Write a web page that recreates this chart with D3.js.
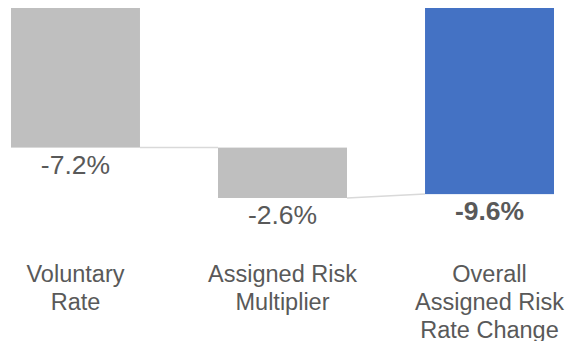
<!DOCTYPE html>
<html>
<head>
<meta charset="utf-8">
<script src="https://cdn.jsdelivr.net/npm/d3@7"></script>
<style>
    body { margin: 0; background: #ffffff; }
    svg { display: block; font-family: "Liberation Sans", Arial, sans-serif; }
</style>
</head>
<body>
<svg id="chart"></svg>
<script>
// waterfall of rate changes

const categories = ["Voluntary Rate", "Assigned Risk Multiplier", "Overall Assigned Risk Rate Change"];
const labelLines = [["Voluntary", "Rate"], ["Assigned Risk", "Multiplier"], ["Overall", "Assigned Risk", "Rate Change"]];
const changes = [-7.2, -2.6, -9.6];
const isTotal = [false, false, true];
const valueLabels = ["-7.2%", "-2.6%", "-9.6%"];

const WIDTH = 568, HEIGHT = 341;

const svg = d3.select("#chart")
    .attr("width", WIDTH)
    .attr("height", HEIGHT);

// build start/end for each step
let running = 0;
const steps = categories.map((c, i) => {
    let start, end;
    if (isTotal[i]) {
        start = 0;
        end = changes[i];
    } else {
        start = running;
        end = running + changes[i];
        running = end;
    }
    return {cat: c, start: start, end: end, total: isTotal[i], label: valueLabels[i], lines: labelLines[i]};
});

const xScale = d3.scaleBand()
    .domain(categories)
    .range([11, 554])
    .paddingInner(0.377)
    .paddingOuter(0);

const yScale = d3.scaleLinear()
    .domain([0, -9.8])
    .range([8, 198]);

// connectors between bars
const links = steps.slice(0, -1).map((d, i) => ({from: d, to: steps[i + 1]}));
svg.selectAll(".connector")
    .data(links)
    .enter()
    .append("line")
    .attr("class", "connector")
    .attr("x1", d => xScale(d.from.cat) + xScale.bandwidth())
    .attr("y1", d => yScale(d.from.end))
    .attr("x2", d => xScale(d.to.cat))
    .attr("y2", d => yScale(d.to.total ? d.to.end : d.to.start))
    .attr("stroke", "#d9d9d9")
    .attr("stroke-width", 1.5);

svg.selectAll(".bar")
    .data(steps)
    .enter()
    .append("rect")
    .attr("class", "bar")
    .attr("x", d => xScale(d.cat))
    .attr("y", d => yScale(Math.max(d.start, d.end)))
    .attr("width", xScale.bandwidth())
    .attr("height", d => Math.abs(yScale(d.end) - yScale(d.start)))
    .attr("fill", d => d.total ? "#4472c4" : "#bfbfbf");

// value labels under each bar
svg.selectAll(".value-label")
    .data(steps)
    .enter()
    .append("text")
    .attr("class", "value-label")
    .attr("x", d => xScale(d.cat) + xScale.bandwidth() / 2)
    .attr("y", d => yScale(Math.min(d.start, d.end)) + 26)
    .attr("text-anchor", "middle")
    .attr("font-size", "26.5px")
    .attr("font-weight", d => d.total ? "bold" : "normal")
    .attr("fill", "#595959")
    .text(d => d.label);

// category labels
const catLabels = svg.selectAll(".cat-label")
    .data(steps)
    .enter()
    .append("text")
    .attr("class", "cat-label")
    .attr("text-anchor", "middle")
    .attr("font-size", "23.5px")
    .attr("fill", "#595959");

catLabels.selectAll("tspan")
    .data(d => d.lines.map(l => ({line: l, cat: d.cat})))
    .enter()
    .append("tspan")
    .attr("x", d => xScale(d.cat) + xScale.bandwidth() / 2)
    .attr("y", (d, i) => 282 + i * 28)
    .text(d => d.line);
</script>
</body>
</html>
